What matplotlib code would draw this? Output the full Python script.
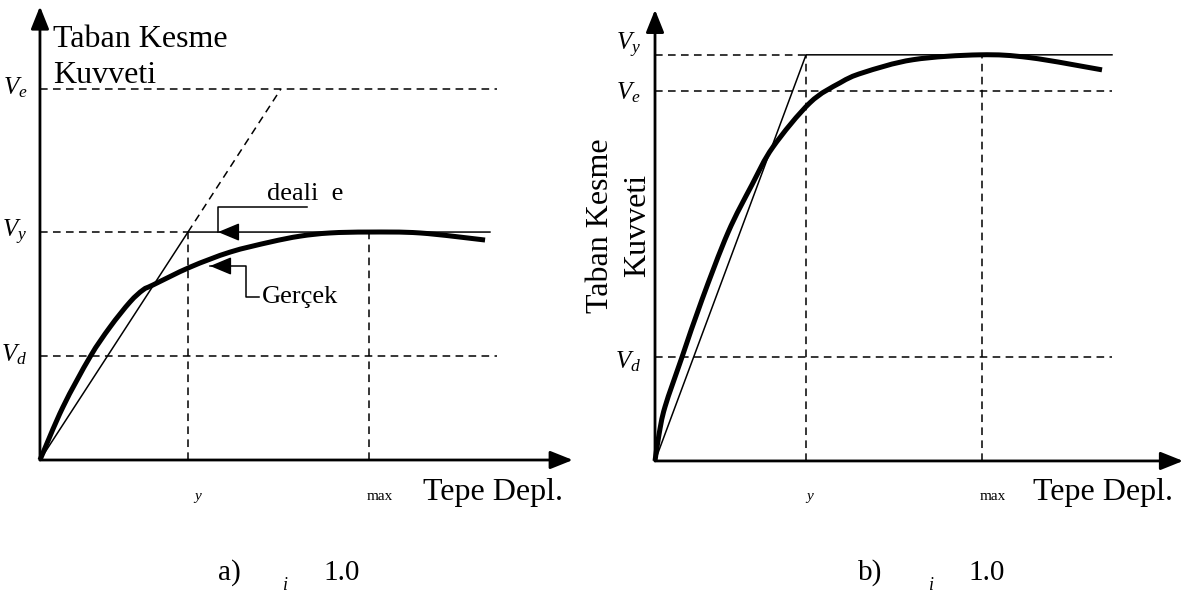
import matplotlib
matplotlib.use("Agg")
import matplotlib.pyplot as plt
from matplotlib.path import Path
from matplotlib.patches import PathPatch

plt.rcParams["font.family"] = ["Liberation Serif", "DejaVu Serif"]
plt.rcParams["mathtext.fontset"] = "custom"
plt.rcParams["mathtext.rm"] = "Liberation Serif"
plt.rcParams["mathtext.it"] = "Liberation Serif:italic"

# ---- panel a: displacement normalised by yield displacement, force by V_y ----
a_levels = {"V_e": 1.627, "V_y": 1.0, "V_d": 0.456}
a_dy, a_dmax = 1.0, 2.223
a_ideal_end = 3.04
a_dash_end = 3.09
a_real_x = [0.0, 0.155, 0.338, 0.473, 0.608, 0.696, 0.764, 1.014, 1.284,
            1.554, 1.757, 1.959, 2.223, 2.568, 3.007]
a_real_y = [0.0, 0.232, 0.452, 0.583, 0.693, 0.746, 0.768, 0.846, 0.912,
            0.956, 0.982, 0.996, 1.0, 0.996, 0.965]

# ---- panel b ----
b_levels = {"V_y": 1.0, "V_e": 0.911, "V_d": 0.256}
b_dy, b_dmax = 1.0, 2.166
b_ideal_end = 3.026
b_real_x = [0.0, 0.026, 0.066, 0.179, 0.311, 0.483, 0.642, 0.781, 1.026,
            1.225, 1.377, 1.709, 2.152, 2.483, 2.960]
b_real_y = [0.0, 0.064, 0.133, 0.256, 0.397, 0.562, 0.680, 0.773, 0.882,
            0.931, 0.956, 0.988, 1.0, 0.993, 0.963]

W, H = 1189, 597
fig = plt.figure(figsize=(W / 100, H / 100), dpi=100)

DASH = (0, (5, 3.5))
THIN = 1.1
THICK = 3.6
AX_LW = 2.0
FS_BIG = 23
FS_V = 18
FS_SMALL = 11


def smooth_curve(ax, xs, ys, lw):
    """Draw a smooth curve through the points as cubic Bezier segments."""
    pts = list(zip(xs, ys))
    n = len(pts)
    verts = [pts[0]]
    codes = [Path.MOVETO]
    for i in range(n - 1):
        p0 = pts[i - 1] if i > 0 else pts[i]
        p1 = pts[i]
        p2 = pts[i + 1]
        p3 = pts[i + 2] if i + 2 < n else pts[i + 1]
        c1 = (p1[0] + (p2[0] - p0[0]) / 6, p1[1] + (p2[1] - p0[1]) / 6)
        c2 = (p2[0] - (p3[0] - p1[0]) / 6, p2[1] - (p3[1] - p1[1]) / 6)
        verts += [c1, c2, p2]
        codes += [Path.CURVE4] * 3
    patch = PathPatch(Path(verts, codes), fill=False, lw=lw, edgecolor="k",
                      capstyle="butt", joinstyle="round")
    ax.add_patch(patch)


def axis_arrow(ax, x0, y0, x1, y1):
    ax.annotate("", xy=(x1, y1), xytext=(x0, y0),
                arrowprops=dict(arrowstyle="-|>,head_length=0.55,head_width=0.22",
                                lw=AX_LW, color="k", mutation_scale=25,
                                shrinkA=0, shrinkB=0))


def leader_head(ax, tip, base):
    ax.annotate("", xy=tip, xytext=base,
                arrowprops=dict(arrowstyle="-|>,head_length=0.6,head_width=0.25",
                                lw=THIN, color="k", mutation_scale=22,
                                shrinkA=0, shrinkB=0))


# ================= panel a =================
axa = fig.add_axes([0, 0, 594 / W, 1])
axa.set_xlim(-0.270, 3.743)
axa.set_ylim(-0.601, 2.018)
axa.set_axis_off()

axis_arrow(axa, 0, 0, 0, 1.99)
axis_arrow(axa, 0, 0, 3.60, 0)

axa.plot([0, a_dash_end], [a_levels["V_e"]] * 2, "k", lw=THIN, ls=DASH)
axa.plot([0, a_dy], [a_levels["V_y"]] * 2, "k", lw=THIN, ls=DASH)
axa.plot([0, a_dash_end], [a_levels["V_d"]] * 2, "k", lw=THIN, ls=DASH)
axa.plot([a_dy, a_dy], [0, a_levels["V_y"]], "k", lw=THIN, ls=DASH)
axa.plot([a_dmax, a_dmax], [0, a_levels["V_y"]], "k", lw=THIN, ls=DASH)
# elastic stiffness extended up to the elastic force level
axa.plot([a_dy, a_levels["V_e"]], [a_levels["V_y"], a_levels["V_e"]],
         "k", lw=THIN, ls=DASH)
# idealised bilinear response
axa.plot([0, a_dy, a_ideal_end], [0, a_levels["V_y"], a_levels["V_y"]],
         "k", lw=THIN)
# actual response
smooth_curve(axa, a_real_x, a_real_y, THICK)

for name, lv in a_levels.items():
    axa.text(-0.085, lv - 0.024, rf"${name}$", fontsize=FS_V,
             ha="right", va="baseline")

axa.text(0.088, 1.811, "Taban Kesme", fontsize=FS_BIG, ha="left", va="baseline")
axa.text(0.088, 1.654, "Kuvveti", fontsize=FS_BIG, ha="left", va="baseline")
axa.text(2.588, -0.175, "Tepe Depl.", fontsize=FS_BIG, ha="left", va="baseline")
axa.text(1.068, -0.175, "y", fontsize=FS_SMALL, style="italic",
         ha="center", va="baseline")
axa.text(2.297, -0.175, "max", fontsize=FS_SMALL, ha="center", va="baseline")

# leader for the idealised curve
axa.plot([1.804, 1.203, 1.203], [1.110, 1.110, 1.0], "k", lw=THIN)
leader_head(axa, (1.203, 1.0), (1.32, 1.0))
axa.text(1.534, 1.140, "deali  e", fontsize=19, ha="left", va="baseline")

# leader for the actual curve
axa.plot([1.149, 1.392, 1.392, 1.480], [0.851, 0.851, 0.715, 0.715], "k", lw=THIN)
leader_head(axa, (1.149, 0.851), (1.27, 0.851))
axa.text(1.50, 0.715, "Gerçek", fontsize=19, ha="left", va="center")

# ================= panel b =================
axb = fig.add_axes([594 / W, 0, 595 / W, 1])
axb.set_xlim(-0.404, 3.536)
axb.set_ylim(-0.335, 1.135)
axb.set_axis_off()

axis_arrow(axb, 0, 0, 0, 1.111)
axis_arrow(axb, 0, 0, 3.497, 0)

axb.plot([0, b_dy], [b_levels["V_y"]] * 2, "k", lw=THIN, ls=DASH)
axb.plot([0, b_ideal_end], [b_levels["V_e"]] * 2, "k", lw=THIN, ls=DASH)
axb.plot([0, b_ideal_end], [b_levels["V_d"]] * 2, "k", lw=THIN, ls=DASH)
axb.plot([b_dy, b_dy], [0, b_levels["V_y"]], "k", lw=THIN, ls=DASH)
axb.plot([b_dmax, b_dmax], [0, b_levels["V_y"]], "k", lw=THIN, ls=DASH)
axb.plot([0, b_dy, b_ideal_end], [0, b_levels["V_y"], b_levels["V_y"]],
         "k", lw=THIN)
smooth_curve(axb, b_real_x, b_real_y, THICK)

b_label_shift = {"V_y": 0.012, "V_e": -0.020, "V_d": -0.027}
for name, lv in b_levels.items():
    axb.text(-0.093, lv + b_label_shift[name], rf"${name}$", fontsize=FS_V,
             ha="right", va="baseline")

axb.text(-0.358, 0.579, "Taban Kesme", fontsize=FS_BIG, rotation=90,
         ha="center", va="center")
axb.text(-0.113, 0.579, "Kuvveti", fontsize=FS_BIG, rotation=90,
         ha="center", va="center")
axb.text(2.503, -0.096, "Tepe Depl.", fontsize=FS_BIG, ha="left", va="baseline")
axb.text(1.026, -0.096, "y", fontsize=FS_SMALL, style="italic",
         ha="center", va="baseline")
axb.text(2.238, -0.096, "max", fontsize=FS_SMALL, ha="center", va="baseline")

# ================= captions =================
def caption(x_lbl, x_i, x_val, lbl):
    fig.text(x_lbl / W, 1 - 580 / H, lbl, fontsize=21, ha="left", va="baseline")
    fig.text(x_i / W, 1 - 590 / H, "i", fontsize=13, style="italic",
             ha="center", va="baseline")
    fig.text(x_val / W, 1 - 580 / H, "1.0", fontsize=21, ha="left", va="baseline")


caption(218, 285, 323, "a)")
caption(858, 932, 968, "b)")

fig.savefig("out.png", dpi=100)
